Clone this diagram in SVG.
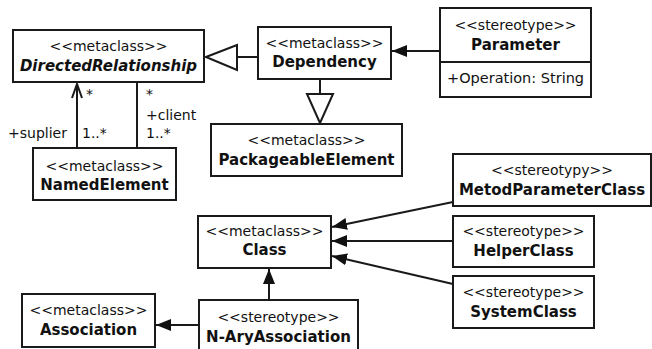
<svg xmlns="http://www.w3.org/2000/svg" width="652" height="349" viewBox="0 0 652 349">
<style>
  .box { fill: #ffffff; stroke: #1a1a1a; stroke-width: 2; }
  .ln { fill: none; stroke: #1a1a1a; stroke-width: 2; }
  text { font-family: "DejaVu Sans", Verdana, sans-serif; font-size: 14px; fill: #111; }
  .st { text-anchor: middle; }
  .nm { text-anchor: middle; font-weight: bold; font-size: 15px; }
  .it { font-style: italic; }
</style>
<defs>
  <marker id="filled" markerWidth="16" markerHeight="12" refX="15" refY="6" orient="auto" markerUnits="userSpaceOnUse">
    <path d="M0,0 L15,6 L0,12 Z" fill="#111"/>
  </marker>
</defs>

<g id="connectors">
  <!-- Dependency generalizes DirectedRelationship -->
  <line class="ln" x1="258" y1="57" x2="237" y2="57"/>
  <path class="box" d="M206,57 L237,45 L237,70 Z"/>
  <!-- Dependency generalizes PackageableElement -->
  <line class="ln" x1="320" y1="79" x2="320" y2="94"/>
  <path class="box" d="M320,123 L307,94 L333,94 Z"/>
  <!-- Parameter extends Dependency -->
  <line class="ln" x1="440" y1="51" x2="392" y2="51" marker-end="url(#filled)"/>
  <!-- supplier / client ends -->
  <line class="ln" x1="77" y1="148" x2="77" y2="84"/>
  <path class="ln" d="M72,98 L77,84 L82,98"/>
  <line class="ln" x1="137" y1="82" x2="137" y2="148"/>
  <!-- stereotypes extending Class -->
  <line class="ln" x1="453" y1="202" x2="332" y2="227" marker-end="url(#filled)"/>
  <line class="ln" x1="453" y1="241" x2="332" y2="241" marker-end="url(#filled)"/>
  <line class="ln" x1="453" y1="284" x2="332" y2="256" marker-end="url(#filled)"/>
  <!-- N-AryAssociation extends Class and Association -->
  <line class="ln" x1="269" y1="300" x2="269" y2="269" marker-end="url(#filled)"/>
  <line class="ln" x1="199" y1="325" x2="156" y2="325" marker-end="url(#filled)"/>
  <!-- end labels -->
  <text x="86" y="99">*</text>
  <text x="146" y="99">*</text>
  <text x="146" y="120">+client</text>
  <text x="146" y="138">1..*</text>
  <text x="8" y="138">+suplier</text>
  <text x="82" y="138">1..*</text>
</g>

<g id="DirectedRelationship">
  <rect class="box" x="13" y="30" width="191" height="52"/>
  <text class="st" x="108.5" y="51">&lt;&lt;metaclass&gt;&gt;</text>
  <text class="nm it" x="108.5" y="71">DirectedRelationship</text>
</g>

<g id="Dependency">
  <rect class="box" x="258" y="27" width="133" height="52"/>
  <text class="st" x="324.5" y="48">&lt;&lt;metaclass&gt;&gt;</text>
  <text class="nm" x="324.5" y="67">Dependency</text>
</g>

<g id="Parameter">
  <rect class="box" x="440" y="8" width="151" height="89"/>
  <line class="ln" x1="440" y1="62" x2="591" y2="62"/>
  <text class="st" x="515.5" y="30">&lt;&lt;stereotype&gt;&gt;</text>
  <text class="nm" x="515.5" y="50">Parameter</text>
  <text x="447" y="83" style="font-size:14.5px">+Operation: String</text>
</g>

<g id="PackageableElement">
  <rect class="box" x="211" y="124" width="191" height="52"/>
  <text class="st" x="306.5" y="145">&lt;&lt;metaclass&gt;&gt;</text>
  <text class="nm" x="306.5" y="165">PackageableElement</text>
</g>

<g id="NamedElement">
  <rect class="box" x="33" y="148" width="143" height="52"/>
  <text class="st" x="104.5" y="171">&lt;&lt;metaclass&gt;&gt;</text>
  <text class="nm" x="104.5" y="190">NamedElement</text>
</g>

<g id="Class">
  <rect class="box" x="198" y="216" width="133" height="52"/>
  <text class="st" x="264.5" y="236">&lt;&lt;metaclass&gt;&gt;</text>
  <text class="nm" x="264.5" y="255">Class</text>
</g>

<g id="MetodParameterClass">
  <rect class="box" x="453" y="154" width="198" height="52"/>
  <text class="st" x="552" y="175">&lt;&lt;stereotypy&gt;&gt;</text>
  <text class="nm" x="552" y="195">MetodParameterClass</text>
</g>

<g id="HelperClass">
  <rect class="box" x="453" y="216" width="141" height="51"/>
  <text class="st" x="523.5" y="236">&lt;&lt;stereotype&gt;&gt;</text>
  <text class="nm" x="523.5" y="256">HelperClass</text>
</g>

<g id="SystemClass">
  <rect class="box" x="453" y="276" width="141" height="52"/>
  <text class="st" x="523.5" y="297">&lt;&lt;stereotype&gt;&gt;</text>
  <text class="nm" x="523.5" y="317">SystemClass</text>
</g>

<g id="Association">
  <rect class="box" x="22" y="294" width="133" height="53"/>
  <text class="st" x="88.5" y="315">&lt;&lt;metaclass&gt;&gt;</text>
  <text class="nm" x="88.5" y="335">Association</text>
</g>

<g id="N-AryAssociation">
  <rect class="box" x="199" y="300" width="159" height="52"/>
  <text class="st" x="278.5" y="322">&lt;&lt;stereotype&gt;&gt;</text>
  <text class="nm" x="278.5" y="342">N-AryAssociation</text>
</g>
</svg>
